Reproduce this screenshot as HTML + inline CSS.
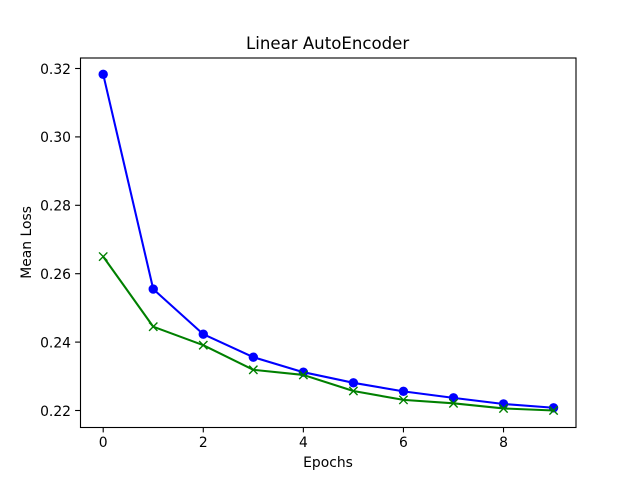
<!DOCTYPE html>
<html>
<head>
<meta charset="utf-8">
<title>Linear AutoEncoder</title>
<style>
html,body{margin:0;padding:0;background:#fff;}
svg{display:block;}
text{font-family:"DejaVu Sans",sans-serif;fill:#000;}
</style>
</head>
<body>
<svg id="chart" xmlns="http://www.w3.org/2000/svg" width="640" height="480" viewBox="0 0 640 480">
  <rect x="0" y="0" width="640" height="480" fill="#fff"></rect>
  <text x="327.6" y="49" text-anchor="middle" font-size="16.6">Linear AutoEncoder</text>
  <text x="328" y="467" text-anchor="middle" font-size="13.89">Epochs</text>
  <text transform="translate(31,242.4) rotate(-90)" text-anchor="middle" font-size="13.89">Mean Loss</text>
  <g id="ticks"></g>
  <g id="series"></g>
  <rect x="80.5" y="58" width="495.5" height="369.5" fill="none" stroke="#000" stroke-width="1.11"></rect>
</svg>
<script>
const epochs = [0, 1, 2, 3, 4, 5, 6, 7, 8, 9];
const trainLoss = [0.3183, 0.2555, 0.2423, 0.2356, 0.2312, 0.2281, 0.2256, 0.2237, 0.2219, 0.2208];
const valLoss = [0.2650, 0.2445, 0.2391, 0.2319, 0.2304, 0.2257, 0.2231, 0.2221, 0.2206, 0.2200];
const xTicks = [0, 2, 4, 6, 8];
const yTicks = [0.22, 0.24, 0.26, 0.28, 0.30, 0.32];

const NS = 'http://www.w3.org/2000/svg';
function xScale(v) { return 103.2 + v * 50.04; }
function yScale(v) { return 410.5 - (v - 0.22) * 3420; }
function make(tag, attrs, parent) {
  const el = document.createElementNS(NS, tag);
  for (const k in attrs) el.setAttribute(k, attrs[k]);
  parent.appendChild(el);
  return el;
}
const tickGroup = document.getElementById('ticks');
const seriesGroup = document.getElementById('series');

xTicks.forEach(function (t) {
  const x = xScale(t);
  const mark = make('line', {x1: x, x2: x, y1: 427.5, y2: 432.4, stroke: '#000', 'stroke-width': 1.11}, tickGroup);
  
  
  const label = make('text', {x: x, y: 447, 'text-anchor': 'middle', 'font-size': 13.89}, tickGroup);
  label.textContent = String(t);
  
  
});

yTicks.forEach(function (t) {
  const y = yScale(t);
  const mark = make('line', {x1: 75.1, x2: 80, y1: y, y2: y, stroke: '#000', 'stroke-width': 1.11}, tickGroup);
  
  
  const label = make('text', {x: 71, y: y + 5.3, 'text-anchor': 'end', 'font-size': 13.89}, tickGroup);
  label.textContent = t.toFixed(2);
  
  
});

function pointsOf(values) {
  return values.map(function (v, i) { return xScale(epochs[i]) + ',' + yScale(v); }).join(' ');
}

const blueLine = make('polyline', {points: pointsOf(trainLoss), fill: 'none', stroke: '#0000ff', 'stroke-width': 2.08, 'stroke-linejoin': 'round'}, seriesGroup);


trainLoss.forEach(function (v, i) {
  const dot = make('circle', {cx: xScale(epochs[i]), cy: yScale(v), r: 4.7, fill: '#0000ff'}, seriesGroup);
  
  
});

const greenLine = make('polyline', {points: pointsOf(valLoss), fill: 'none', stroke: '#008000', 'stroke-width': 2.08, 'stroke-linejoin': 'round'}, seriesGroup);


valLoss.forEach(function (v, i) {
  const cx = xScale(epochs[i]);
  const cy = yScale(v);
  const r = 4.17;
  const d = 'M' + (cx - r) + ' ' + (cy - r) + 'L' + (cx + r) + ' ' + (cy + r) + 'M' + (cx - r) + ' ' + (cy + r) + 'L' + (cx + r) + ' ' + (cy - r);
  const cross = make('path', {d: d, fill: 'none', stroke: '#008000', 'stroke-width': 1.39}, seriesGroup);
  
  
});
</script>
</body>
</html>
